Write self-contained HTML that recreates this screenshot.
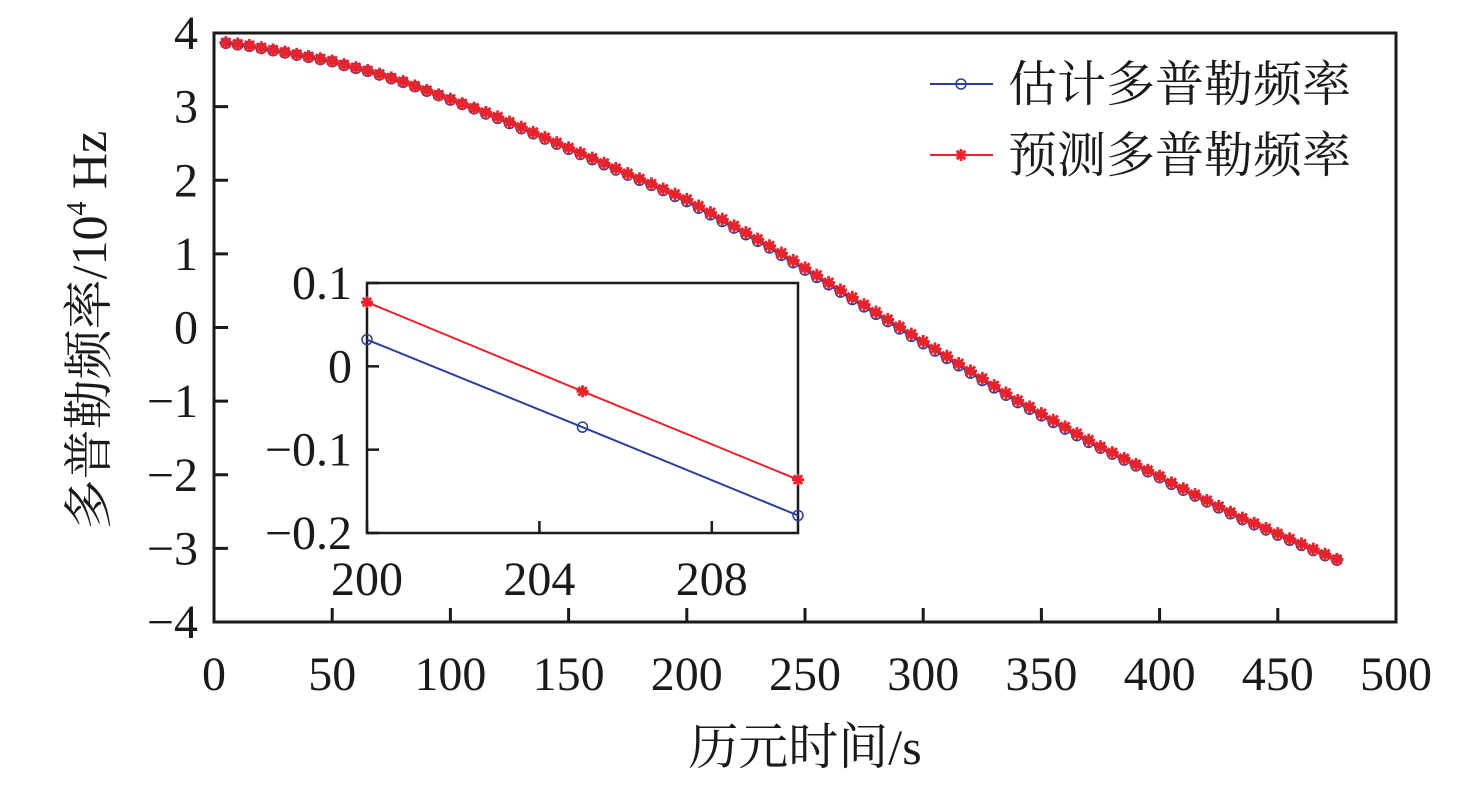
<!DOCTYPE html>
<html><head><meta charset="utf-8"><style>
html,body{margin:0;padding:0;background:#fff;}
svg{display:block;font-family:"Liberation Serif","Noto Serif CJK SC",serif;}
</style></head><body>
<svg id="chart" width="1476" height="787" viewBox="0 0 1476 787" xmlns="http://www.w3.org/2000/svg"></svg>
<script>
const mainXTicks=[0,50,100,150,200,250,300,350,400,450,500];
const mainYTicks=[4,3,2,1,0,-1,-2,-3,-4];
const mainYTickLabels=["4","3","2","1","0","\u22121","\u22122","\u22123","\u22124"];
const predicted=[3.87,3.85,3.83,3.80,3.77,3.74,3.71,3.68,3.65,3.62,
3.57,3.53,3.49,3.44,3.39,3.34,3.28,3.22,3.16,3.10,
3.04,2.98,2.92,2.86,2.79,2.72,2.65,2.58,2.51,2.44,
2.37,2.30,2.23,2.16,2.09,2.02,1.95,1.88,1.81,1.74,
1.65,1.56,1.47,1.38,1.29,1.20,1.11,1.01,0.91,0.81,
0.71,0.61,0.51,0.41,0.31,0.21,0.11,0.01,-0.09,-0.19,
-0.29,-0.39,-0.49,-0.59,-0.69,-0.79,-0.89,-0.99,-1.08,-1.17,
-1.26,-1.35,-1.44,-1.53,-1.62,-1.70,-1.78,-1.86,-1.94,-2.02,
-2.11,-2.19,-2.27,-2.35,-2.43,-2.51,-2.59,-2.66,-2.73,-2.80,
-2.87,-2.94,-3.01,-3.08,-3.15];
const estimated=[3.86,3.84,3.82,3.79,3.76,3.73,3.70,3.67,3.64,3.61,
3.56,3.52,3.48,3.43,3.38,3.33,3.27,3.21,3.15,3.09,
3.03,2.97,2.90,2.84,2.77,2.70,2.63,2.56,2.49,2.42,
2.35,2.28,2.21,2.14,2.07,2.00,1.93,1.86,1.78,1.71,
1.62,1.53,1.44,1.35,1.26,1.17,1.08,0.98,0.88,0.78,
0.68,0.58,0.48,0.38,0.28,0.18,0.08,-0.02,-0.12,-0.22,
-0.32,-0.42,-0.52,-0.62,-0.72,-0.82,-0.92,-1.02,-1.11,-1.20,
-1.29,-1.38,-1.47,-1.56,-1.64,-1.72,-1.80,-1.88,-1.96,-2.04,
-2.13,-2.21,-2.29,-2.37,-2.45,-2.53,-2.61,-2.68,-2.75,-2.82,
-2.89,-2.96,-3.03,-3.10,-3.16];
const insetX=[200,205,210];
const insetPredicted=[0.077,-0.030,-0.136];
const insetEstimated=[0.032,-0.073,-0.179];
const insetXTicks=[200,204,208];
const insetYTicks=[0.1,0,-0.1,-0.2];
const insetYTickLabels=["0.1","0","\u22120.1","\u22120.2"];

const NS="http://www.w3.org/2000/svg";
const svg=document.getElementById('chart');
function mk(tag,attrs,parent){const e=document.createElementNS(NS,tag);for(const k in attrs)e.setAttribute(k,attrs[k]);(parent||svg).appendChild(e);return e;}
const M={l:214,r:1396,t:33,b:622,x0:0,x1:500,y0:-4,y1:4};
const mx=v=>M.l+(v-M.x0)/(M.x1-M.x0)*(M.r-M.l);
const my=v=>M.b-(v-M.y0)/(M.y1-M.y0)*(M.b-M.t);
const I={l:367,r:798,t:283,b:533,x0:200,x1:210,y0:-0.2,y1:0.1};
const ix=v=>I.l+(v-I.x0)/(I.x1-I.x0)*(I.r-I.l);
const iy=v=>I.b-(v-I.y0)/(I.y1-I.y0)*(I.b-I.t);
const BLUE="#2b3f9a",RED="#e8232b";

function star(g,x,y,r,c){for(let k=0;k<4;k++){const a=k*Math.PI/4;mk('line',{x1:x-r*Math.cos(a),y1:y-r*Math.sin(a),x2:x+r*Math.cos(a),y2:y+r*Math.sin(a),stroke:c,'stroke-width':2.8},g);}}

// main axes
const ax=mk('g',{});


mk('rect',{x:M.l,y:M.t,width:M.r-M.l,height:M.b-M.t,fill:'none',stroke:'#1a1a1a','stroke-width':3},ax);
mainXTicks.forEach(v=>{
  mk('line',{x1:mx(v),y1:M.b,x2:mx(v),y2:M.b-14,stroke:'#1a1a1a','stroke-width':3},ax);
  const t=mk('text',{x:mx(v),y:690,'font-size':48,'text-anchor':'middle',fill:'#1a1a1a'},ax);
  
  
  t.textContent=v;
});
mainYTicks.forEach((v,i)=>{
  mk('line',{x1:M.l,y1:my(v),x2:M.l+14,y2:my(v),stroke:'#1a1a1a','stroke-width':3},ax);
  const t=mk('text',{x:198,y:my(v)+16,'font-size':48,'text-anchor':'end',fill:'#1a1a1a'},ax);
  
  
  t.textContent=mainYTickLabels[i];
});
const xt=mk('text',{x:805,y:764,'font-size':50,'text-anchor':'middle',fill:'#1a1a1a'});


xt.textContent='历元时间/s';
const yt=mk('text',{x:0,y:0,'font-size':50,'text-anchor':'middle',fill:'#1a1a1a',transform:'translate(106,330) rotate(-90)'});


yt.innerHTML='多普勒频率/10<tspan font-size="28" dy="-20">4</tspan><tspan dy="20"> Hz</tspan>';

function series(xs,ys,fx,fy,color,marker,name,mr){
  const g=mk('g',{});
  
  
  mk('polyline',{points:xs.map((x,i)=>fx(x)+','+fy(ys[i])).join(' '),fill:'none',stroke:color,'stroke-width':2},g);
  xs.forEach((x,i)=>{
    if(marker==='circle') mk('circle',{cx:fx(x),cy:fy(ys[i]),r:mr,fill:'none',stroke:color,'stroke-width':1.5},g);
    else star(g,fx(x),fy(ys[i]),mr,color);
  });
}
const xs=estimated.map((_,i)=>5+5*i);
series(xs,estimated,mx,my,BLUE,'circle','estimated-series',5);
series(xs,predicted,mx,my,RED,'star','predicted-series',6.5);

// legend
const lg=mk('g',{});


[[84,BLUE,'circle','估计多普勒频率'],[155,RED,'star','预测多普勒频率']].forEach(([y,c,m,txt])=>{
  const e=mk('g',{},lg);
  
  
  mk('line',{x1:930,y1:y,x2:993,y2:y,stroke:c,'stroke-width':2},e);
  if(m==='circle') mk('circle',{cx:961,cy:y,r:5,fill:'none',stroke:c,'stroke-width':1.5},e); else star(e,961,y,6,c);
  const t=mk('text',{x:1008,y:y+17,'font-size':49,fill:'#1a1a1a'},e);
  t.textContent=txt;
});

// inset
const ig=mk('g',{});


mk('rect',{x:I.l,y:I.t,width:I.r-I.l,height:I.b-I.t,fill:'#fff',stroke:'#1a1a1a','stroke-width':2.5},ig);
insetXTicks.forEach(v=>{
  mk('line',{x1:ix(v),y1:I.b,x2:ix(v),y2:I.b-12,stroke:'#1a1a1a','stroke-width':2.5},ig);
  const t=mk('text',{x:ix(v),y:595,'font-size':48,'text-anchor':'middle',fill:'#1a1a1a'},ig);
  
  
  t.textContent=v;
});
insetYTicks.forEach((v,i)=>{
  mk('line',{x1:I.l,y1:iy(v),x2:I.l+12,y2:iy(v),stroke:'#1a1a1a','stroke-width':2.5},ig);
  const t=mk('text',{x:352,y:iy(v)+16,'font-size':48,'text-anchor':'end',fill:'#1a1a1a'},ig);
  
  
  t.textContent=insetYTickLabels[i];
});
series(insetX,insetEstimated,ix,iy,BLUE,'circle','inset-estimated-series',5);
series(insetX,insetPredicted,ix,iy,RED,'star','inset-predicted-series',6);
</script>
</body></html>
